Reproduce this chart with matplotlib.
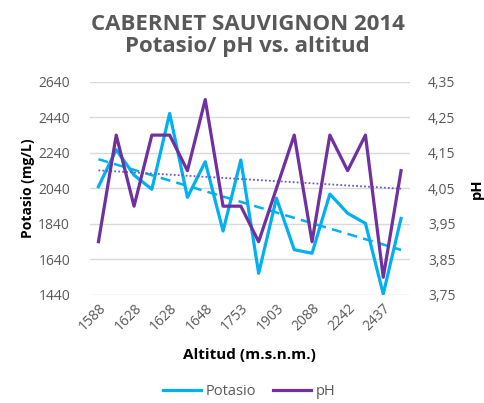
import numpy as np
import matplotlib
matplotlib.use("Agg")
import matplotlib.pyplot as plt
from matplotlib.ticker import FuncFormatter

# altitud labels (only every other one shown on the axis)
altitud = ['1588', '', '1628', '', '1628', '', '1648', '', '1753', '',
           '1903', '', '2088', '', '2242', '', '2437', '']
potasio = [2050, 2258, 2115, 2035, 2462, 1990, 2190, 1800, 2200, 1562,
           1985, 1695, 1675, 2008, 1900, 1843, 1446, 1871]
ph = [3.90, 4.20, 4.00, 4.20, 4.20, 4.10, 4.30, 4.00, 4.00, 3.90,
      4.05, 4.20, 3.90, 4.20, 4.10, 4.20, 3.80, 4.10]

c_k = '#00B0F0'
c_ph = '#7030A0'
grey = '#595959'
plt.rcParams['font.family'] = ['Open Sans', 'DejaVu Sans']

fig = plt.figure(figsize=(4.84, 4.03), dpi=100)
ax = fig.add_axes([0.185, 0.268, 0.662, 0.529])
ax2 = ax.twinx()

x = np.arange(len(potasio))

# trend lines
pk = np.polyfit(x, potasio, 1)
pp = np.polyfit(x, ph, 1)
ax.plot(x, np.polyval(pk, x), color=c_k, lw=1.8, ls=(0, (4, 2.5)), zorder=3)
ax2.plot(x, np.polyval(pp, x), color='#6a5acd', lw=1.3, ls=(0, (1, 1.2)), zorder=3)

lk, = ax.plot(x, potasio, color=c_k, lw=2.3, zorder=4)
lp, = ax2.plot(x, ph, color=c_ph, lw=2.3, zorder=4)

ax.set_xlim(-0.5, len(x) - 0.5)
ax.set_ylim(1440, 2640)
ax.set_yticks(np.arange(1440, 2641, 200))
ax2.set_ylim(3.75, 4.35)
ax2.set_yticks(np.arange(3.75, 4.36, 0.1))
ax2.yaxis.set_major_formatter(FuncFormatter(lambda v, p: f'{v:.2f}'.replace('.', ',')))

ax.yaxis.grid(True, color='#D9D9D9', lw=1)
ax.set_axisbelow(True)
for a in (ax, ax2):
    for s in a.spines.values():
        s.set_visible(False)
    a.tick_params(length=0, colors=grey, labelsize=10)

ax.set_xticks(x)
ax.set_xticklabels(altitud, rotation=45, ha='right', rotation_mode='anchor')
ax.tick_params(axis='x', pad=4)
ax.tick_params(axis='y', pad=14)
ax2.tick_params(axis='y', pad=13)

ax.set_ylabel('Potasio (mg/L)', fontsize=10, fontweight='bold', color='black', labelpad=2)
ax2.set_ylabel('pH', fontsize=10.5, fontweight='bold', color='black', labelpad=10)
ax.set_xlabel('Altitud (m.s.n.m.)', fontsize=11, fontweight='bold', color='black', labelpad=10)

fig.text(0.512, 0.940, 'CABERNET SAUVIGNON 2014', ha='center', va='center',
         fontsize=16, fontweight='bold', color=grey)
fig.text(0.512, 0.884, 'Potasio/ pH vs. altitud', ha='center', va='center',
         fontsize=16, fontweight='bold', color=grey)

fig.legend([lk, lp], ['Potasio', 'pH'], loc='lower center', bbox_to_anchor=(0.515, -0.022),
           ncol=2, frameon=False, fontsize=10.5, labelcolor=grey, handlelength=2.6,
           columnspacing=1.2, handletextpad=0.3)

fig.savefig('out.png', dpi=100)
